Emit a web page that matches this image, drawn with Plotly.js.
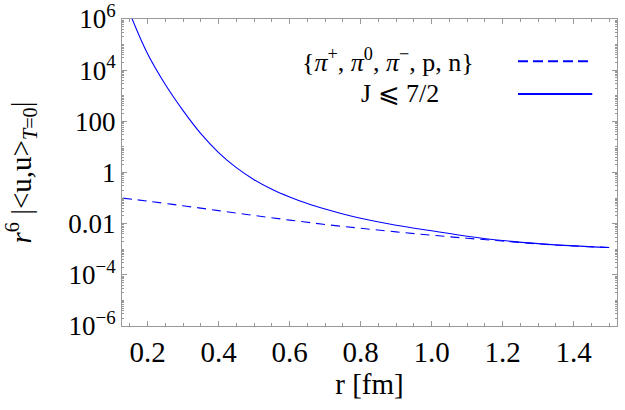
<!DOCTYPE html>
<html>
<head>
<meta charset="utf-8">
<script src="https://cdn.plot.ly/plotly-3.0.1.min.js"></script>
<style>html,body{margin:0;padding:0;background:#fff;}#chart{width:625px;height:410px;}</style>
</head>
<body>
<div id="chart"></div>
<script>
// r values [fm] and r^6 |<u,u>_{T=0}| values
const rDashed = [0.13, 0.2, 0.3, 0.4, 0.5, 0.6, 0.7, 0.8, 0.9, 1.0, 1.1, 1.2, 1.3, 1.4, 1.5];
const yDashed = [0.100, 0.0759, 0.0501, 0.0324, 0.0209, 0.0138, 0.00933, 0.00661, 0.00479, 0.00355, 0.00269, 0.00209, 0.00162, 0.00135, 0.00117];

const rSolid = [0.15, 0.2, 0.25, 0.3, 0.35, 0.4, 0.45, 0.5, 0.55, 0.6, 0.65, 0.7, 0.75, 0.8, 0.9, 1.0, 1.1, 1.2, 1.3, 1.4, 1.5];
const ySolid = [1.66e6, 4.37e4, 2750, 263, 33.1, 6.03, 1.55, 0.525, 0.221, 0.110, 0.0610, 0.0372, 0.0240, 0.0164, 0.00871, 0.00525, 0.00324, 0.00219, 0.00166, 0.00135, 0.00117];

const seriesNames = ["{<i>π</i><sup>+</sup>, <i>π</i><sup>0</sup>, <i>π</i><sup>−</sup>, p, n}", "J ⩽ 7/2"];

const yTickVals = [1e-6, 1e-4, 0.01, 1, 100, 1e4, 1e6];
const yTickText = ["10<sup>−6</sup>", "10<sup>−4</sup>", "0.01", "1", "100", "10<sup>4</sup>", "10<sup>6</sup>"];
const xTickVals = [0.2, 0.4, 0.6, 0.8, 1.0, 1.2, 1.4];
const xTickText = ["0.2", "0.4", "0.6", "0.8", "1.0", "1.2", "1.4"];

const blue = "#0000ff";
const serif = "Liberation Serif";

const traces = [
  {x: rDashed, y: yDashed, mode: "lines", name: seriesNames[0],
   line: {color: blue, width: 1.1, dash: "9px,6px", shape: "spline", smoothing: 1}, showlegend: false},
  {x: rSolid, y: ySolid, mode: "lines", name: seriesNames[1],
   line: {color: blue, width: 1.1, shape: "spline", smoothing: 1}, showlegend: false}
];

const layout = {
  width: 625, height: 410,
  font: {family: serif},
  margin: {l: 122, r: 8, t: 19, b: 84},
  paper_bgcolor: "#fff", plot_bgcolor: "#fff",
  xaxis: {
    showgrid: false, zeroline: false, showline: true, linecolor: "#999", linewidth: 1,
    mirror: "ticks", ticks: "inside", tickcolor: "#999", tickwidth: 1, ticklen: 5,
    tickfont: {family: serif, size: 29, color: "#000"},
    range: [0.128, 1.522], tickvals: xTickVals, ticktext: xTickText,
    minor: {dtick: 0.05, tick0: 0, ticks: "inside", ticklen: 3, tickcolor: "#999"},
    title: {text: "r [fm]", font: {family: serif, size: 29, color: "#000"}, standoff: 6}
  },
  yaxis: {
    showgrid: false, zeroline: false, showline: true, linecolor: "#999", linewidth: 1,
    mirror: "ticks", ticks: "inside", tickcolor: "#999", tickwidth: 1, ticklen: 5,
    tickfont: {family: serif, size: 27, color: "#000"},
    type: "log", range: [-6, 6], tickvals: yTickVals, ticktext: yTickText,
    minor: {dtick: "D1", ticks: "inside", ticklen: 2, tickcolor: "#999"},
    title: {text: "<i>r</i><sup>6</sup> |&lt;u,u&gt;<sub><i>T</i>=0</sub>|", font: {family: serif, size: 29, color: "#000"}, standoff: 28}
  },
  annotations: [
    {xref: "paper", yref: "paper", x: 0.537, y: 0.865, text: seriesNames[0], showarrow: false,
     xanchor: "center", yanchor: "middle", font: {family: serif, size: 26, color: "#000"}},
    {xref: "paper", yref: "paper", x: 0.562, y: 0.758, text: seriesNames[1], showarrow: false,
     xanchor: "center", yanchor: "middle", font: {family: serif, size: 26, color: "#000"}}
  ],
  shapes: [
    {type: "line", xref: "paper", yref: "paper", x0: 0.80, x1: 0.95, y0: 0.862, y1: 0.862,
     line: {color: blue, width: 2, dash: "10px,5px"}},
    {type: "line", xref: "paper", yref: "paper", x0: 0.80, x1: 0.95, y0: 0.756, y1: 0.756,
     line: {color: blue, width: 2}}
  ]
};

Plotly.newPlot("chart", traces, layout, {staticPlot: true, displayModeBar: false});
</script>
</body>
</html>
